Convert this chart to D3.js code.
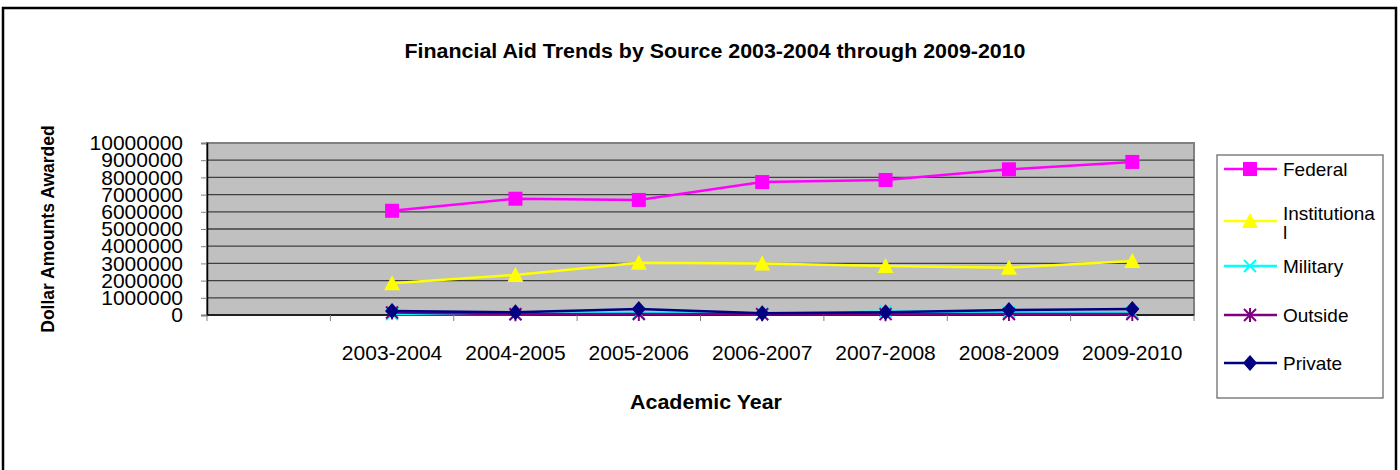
<!DOCTYPE html>
<html>
<head>
<meta charset="utf-8">
<script src="https://cdn.jsdelivr.net/npm/d3@7"></script>
<style>
  body { margin: 0; background: #fff; }
  text { font-family: "Liberation Sans", Arial, sans-serif; }
</style>
</head>
<body>
<svg id="chart" width="1400" height="470"></svg>
<script>
// chart data
var categories = ['', '2003-2004', '2004-2005', '2005-2006', '2006-2007', '2007-2008', '2008-2009', '2009-2010'];
var years = ['2003-2004', '2004-2005', '2005-2006', '2006-2007', '2007-2008', '2008-2009', '2009-2010'];
var federal = [6060000, 6760000, 6690000, 7730000, 7850000, 8470000, 8900000];
var institutional = [1840000, 2330000, 3040000, 3000000, 2850000, 2750000, 3140000];
var military = [60000, 60000, 120000, 60000, 200000, 180000, 150000];
var outside = [150000, 40000, 60000, 40000, 50000, 60000, 60000];
var privateAid = [230000, 160000, 350000, 100000, 160000, 290000, 350000];
var yTicks = [0, 1000000, 2000000, 3000000, 4000000, 5000000, 6000000, 7000000, 8000000, 9000000, 10000000];

var series = [
  { name: 'Federal', values: federal, color: '#ff00ff', marker: 'square' },
  { name: 'Institutional', values: institutional, color: '#ffff00', marker: 'triangle' },
  { name: 'Military', values: military, color: '#00ffff', marker: 'x' },
  { name: 'Outside', values: outside, color: '#800080', marker: 'star' },
  { name: 'Private', values: privateAid, color: '#000080', marker: 'diamond' }
];

var plot = { left: 207, top: 143, right: 1194, bottom: 315 };

var svg = d3.select('#chart');

// outer frame
svg.append('rect')
  .attr('x', 3).attr('y', 8)
  .attr('width', 1393).attr('height', 480)
  .attr('fill', 'none').attr('stroke', '#000').attr('stroke-width', 2.5);

// bold titles are a bit wider than the font, stretch them slightly
svg.append('text')
  .attr('transform', 'translate(715,58) scale(1.07,1)')
  .attr('text-anchor', 'middle')
  .attr('font-size', 20).attr('font-weight', 'bold')
  .text('Financial Aid Trends by Source 2003-2004 through 2009-2010');

var x = d3.scaleBand().domain(categories).range([plot.left, plot.right]).paddingInner(0).paddingOuter(0);
var y = d3.scaleLinear().domain([0, 10000000]).range([plot.bottom, plot.top]);

function cx(year) { return x(year) + x.bandwidth() / 2; }

// plot area
svg.append('rect')
  .attr('x', plot.left).attr('y', plot.top)
  .attr('width', plot.right - plot.left).attr('height', plot.bottom - plot.top)
  .attr('fill', '#c0c0c0').attr('stroke', '#808080').attr('stroke-width', 2);

svg.append('g').selectAll('line')
  .data(yTicks.slice(1, -1))
  .enter().append('line')
  .attr('x1', plot.left).attr('x2', plot.right)
  .attr('y1', function(d) { return y(d); })
  .attr('y2', function(d) { return y(d); })
  .attr('stroke', '#404040').attr('stroke-width', 1.3);

// y axis
var yAxis = svg.append('g')
  .attr('transform', 'translate(' + plot.left + ',0)')
  .call(d3.axisLeft(y).tickValues(yTicks).tickFormat(d3.format('d')).tickSize(6).tickPadding(18));
yAxis.select('.domain').attr('stroke', '#000').attr('stroke-width', 1.5);
yAxis.selectAll('.tick line').attr('stroke', '#808080');
yAxis.selectAll('text').attr('font-size', 21).attr('fill', '#000')
  .style('font-family', '"Liberation Sans", Arial, sans-serif');

// x axis
svg.append('line')
  .attr('x1', plot.left).attr('x2', plot.right)
  .attr('y1', plot.bottom).attr('y2', plot.bottom)
  .attr('stroke', '#000').attr('stroke-width', 1.5);
var bounds = categories.map(function(c) { return x(c); }).concat([plot.right]);
svg.append('g').selectAll('line')
  .data(bounds)
  .enter().append('line')
  .attr('x1', function(d) { return d; }).attr('x2', function(d) { return d; })
  .attr('y1', plot.bottom).attr('y2', plot.bottom + 6)
  .attr('stroke', '#808080');
svg.append('g').selectAll('text')
  .data(years)
  .enter().append('text')
  .attr('x', function(d) { return cx(d); })
  .attr('y', 360)
  .attr('text-anchor', 'middle')
  .attr('font-size', 21)
  .text(function(d) { return d; });

svg.append('text')
  .attr('transform', 'translate(706,409) scale(1.07,1)')
  .attr('text-anchor', 'middle')
  .attr('font-size', 20).attr('font-weight', 'bold')
  .text('Academic Year');

svg.append('text')
  .attr('transform', 'translate(54,229) rotate(-90)')
  .attr('text-anchor', 'middle')
  .attr('font-size', 17.5).attr('font-weight', 'bold')
  .text('Dollar Amounts Awarded');

// markers
function drawMarker(g, type, color, px, py) {
  var s = 7;
  if (type === 'square') {
    g.append('rect').attr('x', px - s).attr('y', py - s).attr('width', 2 * s).attr('height', 2 * s).attr('fill', color);
  } else if (type === 'triangle') {
    g.append('path').attr('d', 'M' + px + ',' + (py - 8) + 'L' + (px + 8) + ',' + (py + 7) + 'L' + (px - 8) + ',' + (py + 7) + 'Z').attr('fill', color);
  } else if (type === 'diamond') {
    g.append('path').attr('d', 'M' + px + ',' + (py - 8) + 'L' + (px + 7) + ',' + py + 'L' + px + ',' + (py + 8) + 'L' + (px - 7) + ',' + py + 'Z').attr('fill', color);
  } else if (type === 'x') {
    g.append('path').attr('d', 'M' + (px - 6) + ',' + (py - 6) + 'L' + (px + 6) + ',' + (py + 6) + 'M' + (px + 6) + ',' + (py - 6) + 'L' + (px - 6) + ',' + (py + 6))
      .attr('stroke', color).attr('stroke-width', 2).attr('fill', 'none');
  } else if (type === 'star') {
    g.append('path').attr('d', 'M' + (px - 6) + ',' + (py - 6) + 'L' + (px + 6) + ',' + (py + 6) + 'M' + (px + 6) + ',' + (py - 6) + 'L' + (px - 6) + ',' + (py + 6) + 'M' + px + ',' + (py - 7) + 'L' + px + ',' + (py + 7))
      .attr('stroke', color).attr('stroke-width', 2).attr('fill', 'none');
  }
}

var line = d3.line()
  .x(function(d, i) { return cx(years[i]); })
  .y(function(d) { return y(d); });

series.forEach(function(s) {
  var g = svg.append('g');
  g.append('path')
    .attr('d', line(s.values))
    .attr('fill', 'none').attr('stroke', s.color).attr('stroke-width', 2.5);
  s.values.forEach(function(v, i) {
    drawMarker(g, s.marker, s.color, cx(years[i]), y(v));
  });
});

// legend
var legend = svg.append('g');
legend.append('rect')
  .attr('x', 1217).attr('y', 155).attr('width', 166).attr('height', 243)
  .attr('fill', '#fff').attr('stroke', '#606060').attr('stroke-width', 1.2);
var legendY = [169, 221, 266, 315, 363];
series.forEach(function(s, i) {
  var ly = legendY[i];
  legend.append('line')
    .attr('x1', 1224).attr('x2', 1277).attr('y1', ly).attr('y2', ly)
    .attr('stroke', s.color).attr('stroke-width', 2.5);
  drawMarker(legend, s.marker, s.color, 1250, ly);
  if (s.name === 'Institutional') {
    var t = legend.append('text').attr('x', 1283).attr('y', ly - 1).attr('font-size', 19);
    t.append('tspan').attr('x', 1283).text('Institutiona');
    t.append('tspan').attr('x', 1283).attr('dy', 19).text('l');
  } else {
    legend.append('text').attr('x', 1283).attr('y', ly + 7).attr('font-size', 19).text(s.name);
  }
});
</script>
</body>
</html>
